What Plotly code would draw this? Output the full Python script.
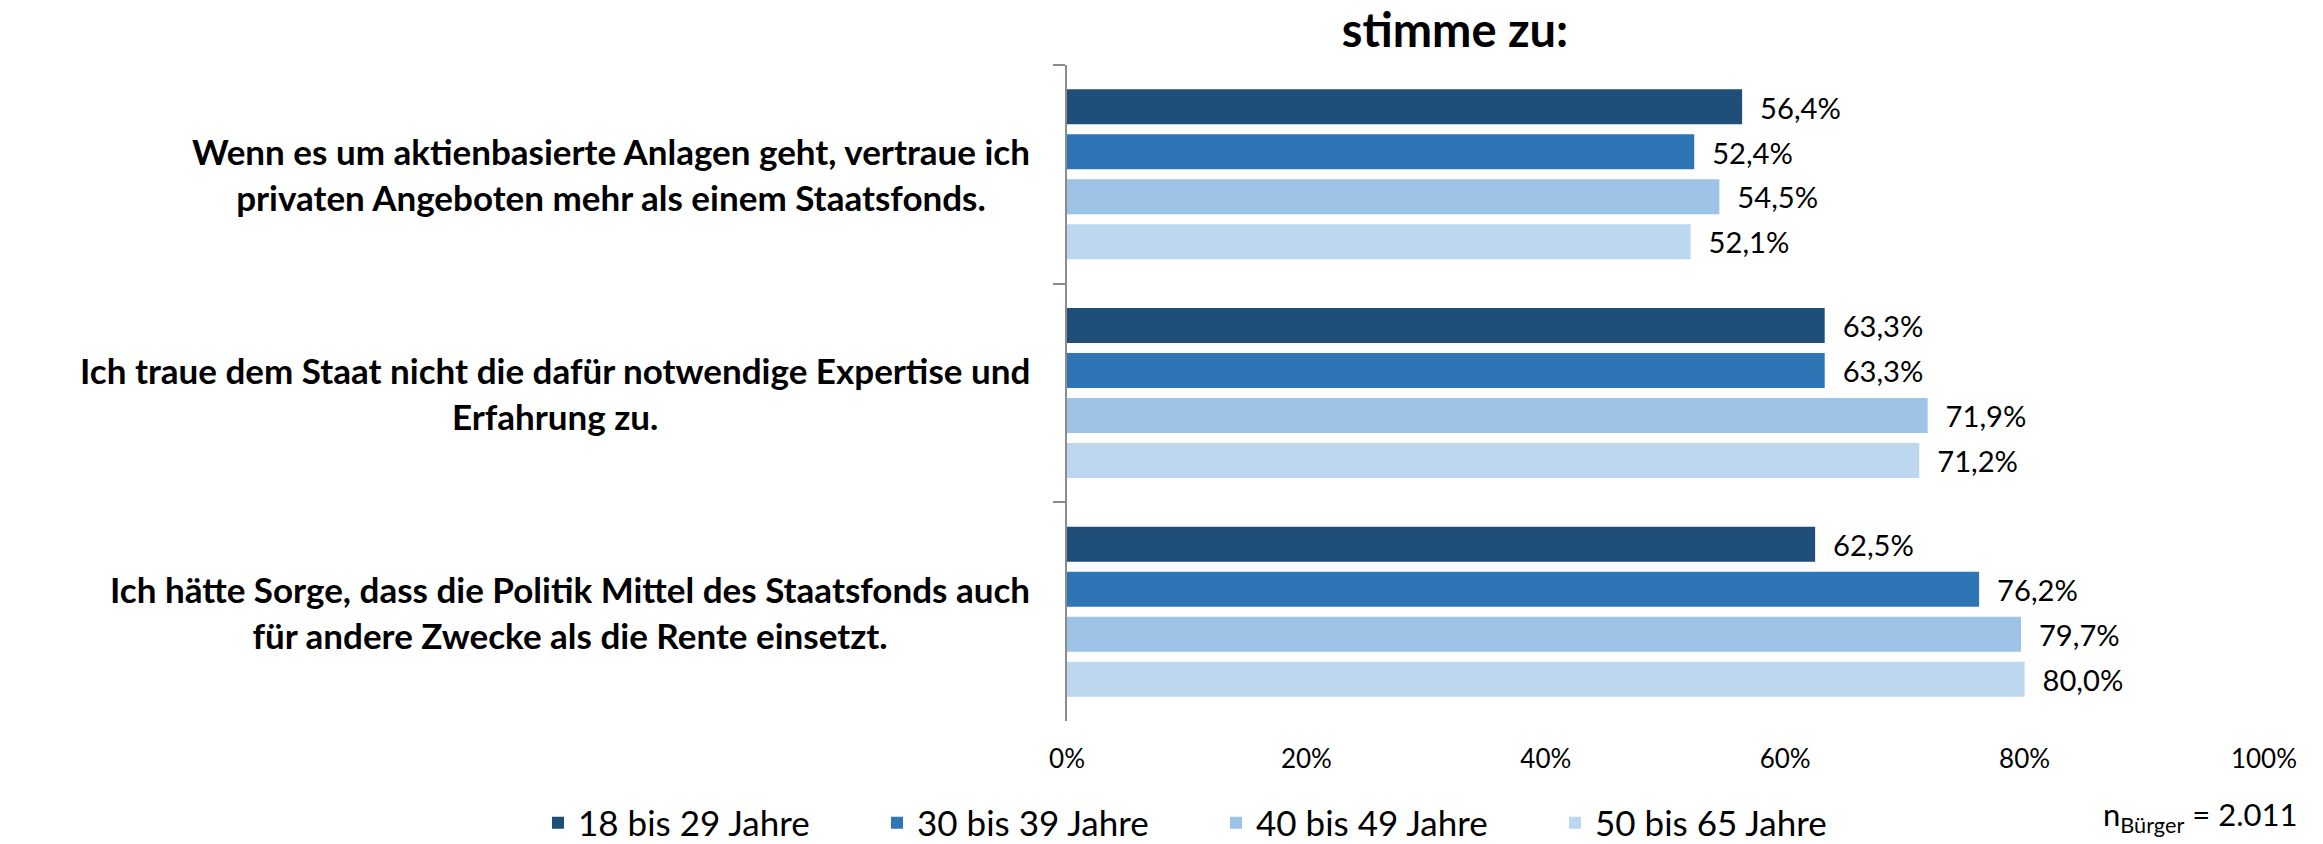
import plotly.graph_objects as go

categories = [
    "Wenn es um aktienbasierte Anlagen geht, vertraue ich<br>privaten Angeboten mehr als einem Staatsfonds.",
    "Ich traue dem Staat nicht die dafür notwendige Expertise und<br>Erfahrung zu.",
    "Ich hätte Sorge, dass die Politik Mittel des Staatsfonds auch<br>für andere Zwecke als die Rente einsetzt.",
]
cat_ids = ["c1", "c2", "c3"]
series_names = ["18 bis 29 Jahre", "30 bis 39 Jahre", "40 bis 49 Jahre", "50 bis 65 Jahre"]
values = {
    "18 bis 29 Jahre": [56.4, 63.3, 62.5],
    "30 bis 39 Jahre": [52.4, 63.3, 76.2],
    "40 bis 49 Jahre": [54.5, 71.9, 79.7],
    "50 bis 65 Jahre": [52.1, 71.2, 80.0],
}
colors = ["#1F4E79", "#2E75B6", "#9DC3E6", "#BDD7EE"]
x_ticks = [0, 20, 40, 60, 80, 100]
x_tick_labels = ["0%", "20%", "40%", "60%", "80%", "100%"]

FONT = "Lato"
W, H = 2323, 844
L, R, T, B = 1067, 59, 65, 123
PW, PH = W - L - R, H - T - B

fig = go.Figure()
for name, col in zip(series_names, colors):
    fig.add_trace(go.Bar(
        y=cat_ids, x=values[name], name=name, orientation="h",
        marker=dict(color=col, line=dict(width=0)),
        texttemplate="\u00a0\u00a0%{x:.1f}%", textposition="outside",
        textfont=dict(family=FONT, size=35, color="black"),
        cliponaxis=False,
    ))

for cid, label in zip(cat_ids, categories):
    fig.add_annotation(
        x=0, xref="paper", y=cid, yref="y", xanchor="right", yanchor="middle",
        xshift=-35, text=label, align="center", showarrow=False,
        font=dict(family=FONT, size=35, color="black", weight="bold"),
    )

fig.add_annotation(
    x=(2299 - L) / PW, xref="paper", y=(T + PH - 840) / PH, yref="paper",
    text="n<sub>Bürger</sub> = 2.011", showarrow=False,
    xanchor="right", yanchor="bottom",
    font=dict(family=FONT, size=31, color="black"),
)

fig.update_layout(
    width=W, height=H,
    margin=dict(l=L, r=R, t=T, b=B, pad=0, autoexpand=False),
    paper_bgcolor="white", plot_bgcolor="white",
    separators=",.",
    barmode="group", bargap=0.177, bargroupgap=0.222,
    title=dict(text="<b>stimme zu:</b>", xref="container", yref="container",
               x=1455 / W, xanchor="center", y=1 - 31 / H, yanchor="middle",
               font=dict(family=FONT, size=47, color="black")),
    showlegend=True,
    legend=dict(orientation="h", xref="paper", yref="paper",
                x=(538 - L) / PW, y=(T + PH - 823) / PH, xanchor="left", yanchor="middle",
                entrywidth=294, entrywidthmode="pixels", borderwidth=0,
                font=dict(family=FONT, size=35, color="black"), traceorder="normal"),
    font=dict(family=FONT, color="black"),
)

fig.update_xaxes(range=[0, 100], tickvals=x_ticks, ticktext=x_tick_labels,
                 showgrid=False, zeroline=False, showline=False, ticks="",
                 tickfont=dict(family=FONT, size=26, color="black"),
                 ticklabelstandoff=20)
fig.update_yaxes(type="category", categoryarray=cat_ids, autorange="reversed",
                 showticklabels=False, showgrid=False, zeroline=False,
                 showline=True, linecolor="#8C8C8C", linewidth=2,
                 ticks="outside", tickson="boundaries", ticklen=12, tickcolor="#8C8C8C", tickwidth=2)

fig.write_html("out.html", config={"displayModeBar": False},
               post_script="document.body.style.margin='0px';")
